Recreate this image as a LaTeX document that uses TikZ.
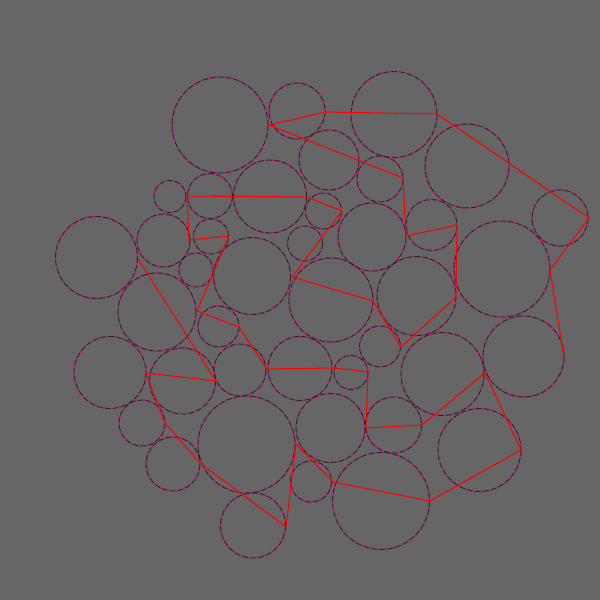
\documentclass[tikz,border=0pt]{standalone}
\usepackage{tikz}

\definecolor{bggray}{HTML}{666666}
\tikzset{
  discdash/.style={draw=black!85, line width=0.7, dash pattern=on 4.3pt off 1.7pt},
  discdot/.style={draw=magenta, line width=1.3, dash pattern=on 1.1pt off 4.9pt, dash phase=1.4pt},
  trail/.style={draw=red, line width=0.8, line join=miter},
}

\begin{document}
\begin{tikzpicture}[x=0.75pt,y=0.75pt,yscale=-1,xscale=1]
  \fill[bggray] (0,0) rectangle (600,600);
  \useasboundingbox (0,0) rectangle (600,600);
  % packed circles
  \foreach \cx/\cy/\r in {
      220/125/48, 297/111/28, 394/114.5/43, 329/160/30, 380/179/23, 467/166/42,
      560/218/28, 270/196.5/36.5, 170/196.5/16, 210/196/22.5, 323.5/211/18,
      372/237/34, 431.5/225/25.5, 502/269/48, 96.5/257.5/41, 163.5/240.5/26.5,
      211/236.5/17.5, 305/243.5/17.5, 196/270/17, 252/276/38.5, 331/300/42,
      416.5/296/39.5, 157/312/39, 218.5/326.5/20.5, 110/372.5/36, 182.5/381/33,
      240/370/26, 300/368.5/32, 380/346.5/20.5, 351/372.5/17, 442.5/374/41.5,
      523.5/356.5/40.5, 142/423/23, 246.5/444.5/48.5, 330.5/428/34.5,
      393.5/425/28, 479.5/450/41.5, 173/464/27, 311/481.5/20.5, 381/501/48.5,
      253/525.5/32.5}
  {
    \draw[discdash] (\cx,\cy) circle (\r);
    \draw[discdot] (\cx,\cy) circle (\r);
  }
  % red trail through the packing
  \draw[trail] (564,357) -- (550,270) -- (589,218) -- (437,114) -- (326,112)
    -- (269,125) -- (403,178) -- (406,236) -- (457,225) -- (456,297)
    -- (401,347) -- (373,301) -- (292,277) -- (342,211) -- (307,197)
    -- (187,196) -- (189,240) -- (229,236) -- (197,311) -- (239,327)
    -- (267,369) -- (335,368) -- (368,372) -- (366,428) -- (422,425)
    -- (485,373) -- (521,450) -- (430,501) -- (333,482) -- (296,444)
    -- (286,527) -- (200,463) -- (165,423) -- (146,373) -- (216,381)
    -- (138,259);
\end{tikzpicture}
\end{document}
